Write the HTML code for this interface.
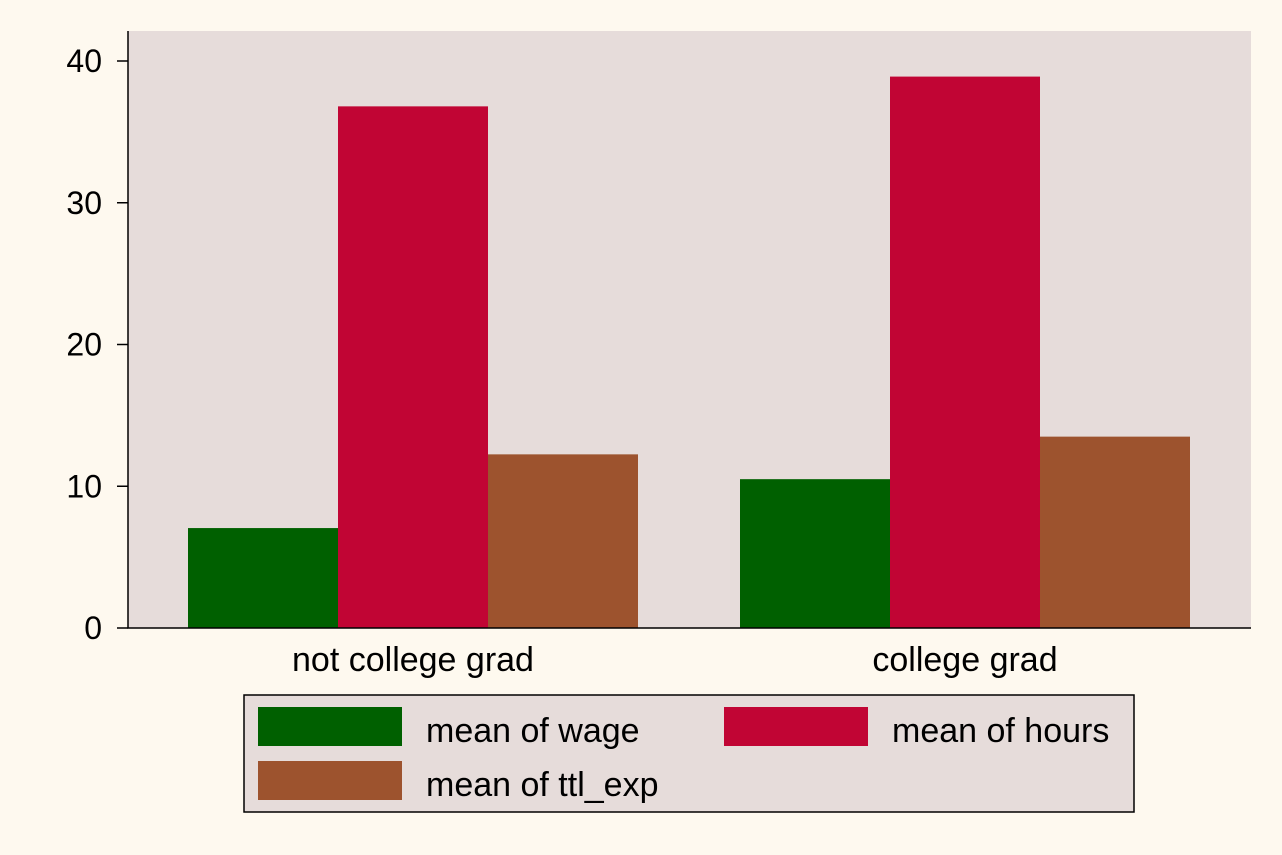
<!DOCTYPE html>
<html><head><meta charset="utf-8"><style>
body{margin:0;background:#fef9ef;}
svg{display:block;font-family:"Liberation Sans",Arial,sans-serif;}
</style></head><body>
<svg id="c" width="1282" height="855">
<rect x="0" y="0" width="1282" height="855" fill="#fef9ef"/>
<rect x="128" y="31" width="1123" height="597" fill="#e6dcda"/>
<g id="bars"></g>
<g id="axis"></g>
<g>
<rect x="244" y="695" width="890" height="117" fill="#e6dcda" stroke="#000" stroke-width="1.5"/>
<rect x="258" y="707" width="144" height="39" fill="#006000"/>
<text x="426" y="742" font-size="34">mean of wage</text>
<rect x="724" y="707" width="144" height="39" fill="#c10534"/>
<text x="892" y="742" font-size="34">mean of hours</text>
<rect x="258" y="761" width="144" height="39" fill="#9d532e"/>
<text x="426" y="796" font-size="34">mean of ttl_exp</text>
</g>
</svg>
<script>
const categories=["not college grad","college grad"];
const wage=[7.05,10.5];
const hours=[36.8,38.9];
const ttlExp=[12.25,13.5];
const ticks=[0,10,20,30,40];
const seriesNames=["wage","hours","ttl-exp"];
const colors=["#006000","#c10534","#9d532e"];
const NS="http://www.w3.org/2000/svg";
const y0=628,yScale=(628-61)/40;
const y=v=>y0-v*yScale;
const groupCenters=[413,965],bw=150;
const bars=document.getElementById('bars'),axis=document.getElementById('axis');
const series=[wage,hours,ttlExp];
categories.forEach((c,i)=>{
  series.forEach((s,j)=>{
    const r=document.createElementNS(NS,'rect');
    r.setAttribute('x',groupCenters[i]-1.5*bw+j*bw);
    r.setAttribute('y',y(s[i]));
    r.setAttribute('width',bw);
    r.setAttribute('height',y0-y(s[i]));
    r.setAttribute('fill',colors[j]);
    
    
    bars.appendChild(r);
  });
  const t=document.createElementNS(NS,'text');
  t.setAttribute('x',groupCenters[i]);t.setAttribute('y',671);
  t.setAttribute('font-size','34');t.setAttribute('text-anchor','middle');
  t.textContent=c;
  
  
  axis.appendChild(t);
});
const ax=document.createElementNS(NS,'path');
ax.setAttribute('d','M128,31V628H1251');ax.setAttribute('stroke','#000');ax.setAttribute('stroke-width','1.5');ax.setAttribute('fill','none');


axis.appendChild(ax);
ticks.forEach(v=>{
  const l=document.createElementNS(NS,'line');
  l.setAttribute('x1',117);l.setAttribute('x2',128);l.setAttribute('y1',y(v));l.setAttribute('y2',y(v));l.setAttribute('stroke','#000');l.setAttribute('stroke-width','1.5');
  
  
  axis.appendChild(l);
  const t=document.createElementNS(NS,'text');
  t.setAttribute('x',102);t.setAttribute('y',y(v)+11);t.setAttribute('font-size','32');t.setAttribute('text-anchor','end');
  t.textContent=v;
  
  
  axis.appendChild(t);
});
</script>
</body></html>
